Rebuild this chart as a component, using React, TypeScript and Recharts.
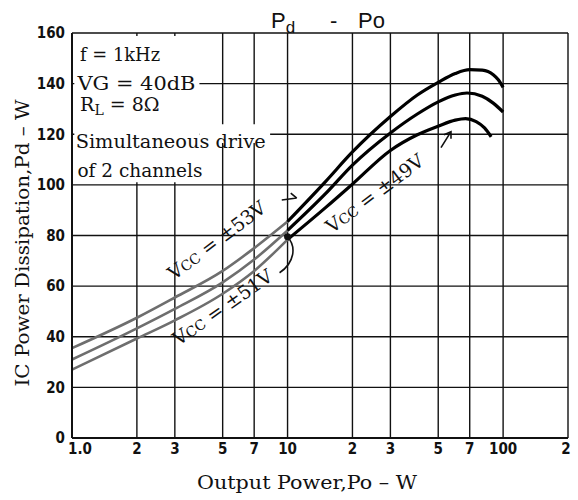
import React from "react";
import {
  LineChart, Line, XAxis, YAxis, CartesianGrid, ReferenceArea, ReferenceDot,
} from "recharts";

// Pd - Po, three supply voltages
const X_TICKS = [1, 2, 3, 5, 7, 10, 20, 30, 50, 70, 100, 200];
const X_TICK_LABELS = ["1.0", "2", "3", "5", "7", "10", "2", "3", "5", "7", "100", "2"];
const Y_TICKS = [0, 20, 40, 60, 80, 100, 120, 140, 160];

const VCC53_PO = [1, 2, 3, 5, 7, 10, 15, 20, 30, 40, 50, 60, 70, 80, 90, 95, 100];
const VCC53_PD = [35.5, 47.5, 55.5, 66, 75, 85.5, 101.3, 113, 127, 135.5, 140.5, 144, 145.5, 145.3, 143.5, 141.5, 138.5];

const VCC51_PO = [1, 2, 3, 5, 7, 10, 15, 20, 30, 40, 50, 60, 68, 80, 90, 100];
const VCC51_PD = [31, 43.3, 51, 61.5, 70.5, 82, 96.5, 107.8, 120.5, 128, 132.8, 135.5, 136.3, 135, 132.3, 128.8];

const VCC49_PO = [1, 2, 3, 5, 7, 10, 15, 20, 30, 40, 50, 60, 67, 75, 82, 88];
const VCC49_PD = [27, 39.3, 46.5, 57, 66, 78.4, 91, 100.3, 113.6, 119.8, 123.2, 125.6, 126.2, 125, 122.5, 119];

const toRows = (po: number[], pd: number[]) => po.map((x, i) => ({ po: x, pd: pd[i] }));
const low = (rows: { po: number; pd: number }[]) => rows.filter((r) => r.po <= 10);
const high = (rows: { po: number; pd: number }[]) => rows.filter((r) => r.po >= 10);

const v53 = toRows(VCC53_PO, VCC53_PD);
const v51 = toRows(VCC51_PO, VCC51_PD);
const v49 = toRows(VCC49_PO, VCC49_PD);

const SERIF = "'DejaVu Serif', serif";
const TICK_FONT = "'DejaVu Sans Condensed', 'DejaVu Sans', sans-serif";

const tickStyle = { fill: "#111", fontFamily: TICK_FONT, fontWeight: 700, fontSize: 15 };

// x tick: "1.0" sits a little right of the frame like in the datasheet
const XTick = (p: any) => {
  const label = X_TICK_LABELS[X_TICKS.indexOf(p.payload.value)] ?? "";
  return (
    <text x={p.x + (p.index === 0 ? 8 : 0)} y={p.y} dy="0.75em" textAnchor="middle" {...tickStyle}>
      {label}
    </text>
  );
};

// text anchored at a data point
const note = (lines: React.ReactNode, opts: { size?: number; rotate?: number; anchor?: string; len?: number } = {}) =>
  (p: any) => (
    <text
      x={p.cx}
      y={p.cy}
      fontFamily={SERIF}
      fontSize={opts.size ?? 19}
      fill="#111"
      textAnchor={opts.anchor ?? "start"}
      textLength={opts.len}
      lengthAdjust={opts.len ? "spacingAndGlyphs" : undefined}
      transform={opts.rotate ? `rotate(${opts.rotate} ${p.cx} ${p.cy})` : undefined}
    >
      {lines}
    </text>
  );

// small pointer strokes from the labels to their curves
const pointer = (d: string, dot = false) => (p: any) => (
  <g transform={`translate(${p.cx} ${p.cy})`}>
    <path d={d} fill="none" stroke="#111" strokeWidth={1.6} />
    {dot && <circle r={3.5} fill="#111" />}
  </g>
);

const vcc = (v: string) => (
  <>
    V<tspan fontSize={14}>CC</tspan> = ±{v}
  </>
);

export default function App() {
  return (
    <div style={{ position: "absolute", left: 0, top: 0, width: 578, height: 500, background: "#fff" }}>
      <LineChart width={578} height={500} margin={{ top: 33, right: 10, left: 12, bottom: 12 }}>
        <CartesianGrid stroke="#111" strokeWidth={1.4} />
        <XAxis
          dataKey="po"
          type="number"
          scale="log"
          domain={[1, 200]}
          ticks={X_TICKS}
          tick={<XTick />}
          tickSize={0}
          tickMargin={5}
          axisLine={{ stroke: "#111", strokeWidth: 2 }}
          height={50}
          allowDataOverflow
        />
        <YAxis
          type="number"
          domain={[0, 160]}
          ticks={Y_TICKS}
          tick={tickStyle}
          tickSize={0}
          tickMargin={7}
          axisLine={{ stroke: "#111", strokeWidth: 2 }}
          width={60}
        />

        {/* white box behind the conditions text */}
        <ReferenceArea x1={1.025} x2={3.9} y1={101} y2={158.8} fill="#fff" fillOpacity={1} stroke="none" />
        <ReferenceArea x1={3.9} x2={8.3} y1={116.5} y2={124} fill="#fff" fillOpacity={1} stroke="none" />

        <Line data={low(v53)} dataKey="pd" type="monotone" stroke="#6e6e6e" strokeWidth={2.6} dot={false} isAnimationActive={false} />
        <Line data={low(v51)} dataKey="pd" type="monotone" stroke="#6e6e6e" strokeWidth={2.6} dot={false} isAnimationActive={false} />
        <Line data={low(v49)} dataKey="pd" type="monotone" stroke="#6e6e6e" strokeWidth={2.6} dot={false} isAnimationActive={false} />
        <Line data={high(v53)} dataKey="pd" type="monotone" stroke="#000" strokeWidth={3.2} dot={false} isAnimationActive={false} />
        <Line data={high(v51)} dataKey="pd" type="monotone" stroke="#000" strokeWidth={3.2} dot={false} isAnimationActive={false} />
        <Line data={high(v49)} dataKey="pd" type="monotone" stroke="#000" strokeWidth={3.2} dot={false} isAnimationActive={false} />

        <ReferenceDot x={1.09} y={149.1} r={0} shape={note("f = 1kHz", { len: 80 })} />
        <ReferenceDot x={1.06} y={137.3} r={0} shape={note("VG = 40dB", { len: 118 })} />
        <ReferenceDot
          x={1.09}
          y={129}
          r={0}
          shape={note(<>R<tspan dy={4} fontSize={14}>L</tspan><tspan dy={-4}> = 8Ω</tspan></>)}
        />
        <ReferenceDot x={1.04} y={114.7} r={0} shape={note("Simultaneous drive", { len: 190 })} />
        <ReferenceDot x={1.06} y={103.3} r={0} shape={note("of 2 channels", { len: 125 })} />

        <ReferenceDot x={4.9} y={76} r={0} shape={note(vcc("53V"), { rotate: -37, anchor: "middle" })} />
        <ReferenceDot x={5.2} y={49.5} r={0} shape={note(vcc("51V"), { rotate: -35, anchor: "middle" })} />
        <ReferenceDot x={26.5} y={94.5} r={0} shape={note(vcc("49V"), { rotate: -37, anchor: "middle" })} />

        <ReferenceDot x={9.4} y={94} r={0} shape={pointer("M0,0 L15,-2 M9,-7 L15,-2")} />
        <ReferenceDot x={51.5} y={115.5} r={0} shape={pointer("M0,2 L10,-14 M3,-11 L10,-14 L10,-7")} />
        <ReferenceDot x={10} y={79.5} r={0} shape={pointer("M0,0 C9,10 7,26 -8,36", true)} />
      </LineChart>

      <svg width={578} height={500} style={{ position: "absolute", left: 0, top: 0, pointerEvents: "none" }}>
        <text x={271} y={28} fontFamily="'Liberation Sans', sans-serif" fontSize={22} fill="#111">
          P<tspan dy={5} fontSize={17}>d</tspan>
          <tspan x={330} dy={-5}>-</tspan>
          <tspan x={358}>Po</tspan>
        </text>
        <text
          x={307}
          y={489}
          fontFamily={SERIF}
          fontSize={19}
          fill="#111"
          textAnchor="middle"
          textLength={220}
          lengthAdjust="spacingAndGlyphs"
        >
          Output Power,Po – W
        </text>
        <text
          x={0}
          y={0}
          transform="translate(29 243) rotate(-90)"
          fontFamily={SERIF}
          fontSize={19}
          fill="#111"
          textAnchor="middle"
          textLength={287}
          lengthAdjust="spacingAndGlyphs"
        >
          IC Power Dissipation,Pd – W
        </text>
      </svg>
    </div>
  );
}
